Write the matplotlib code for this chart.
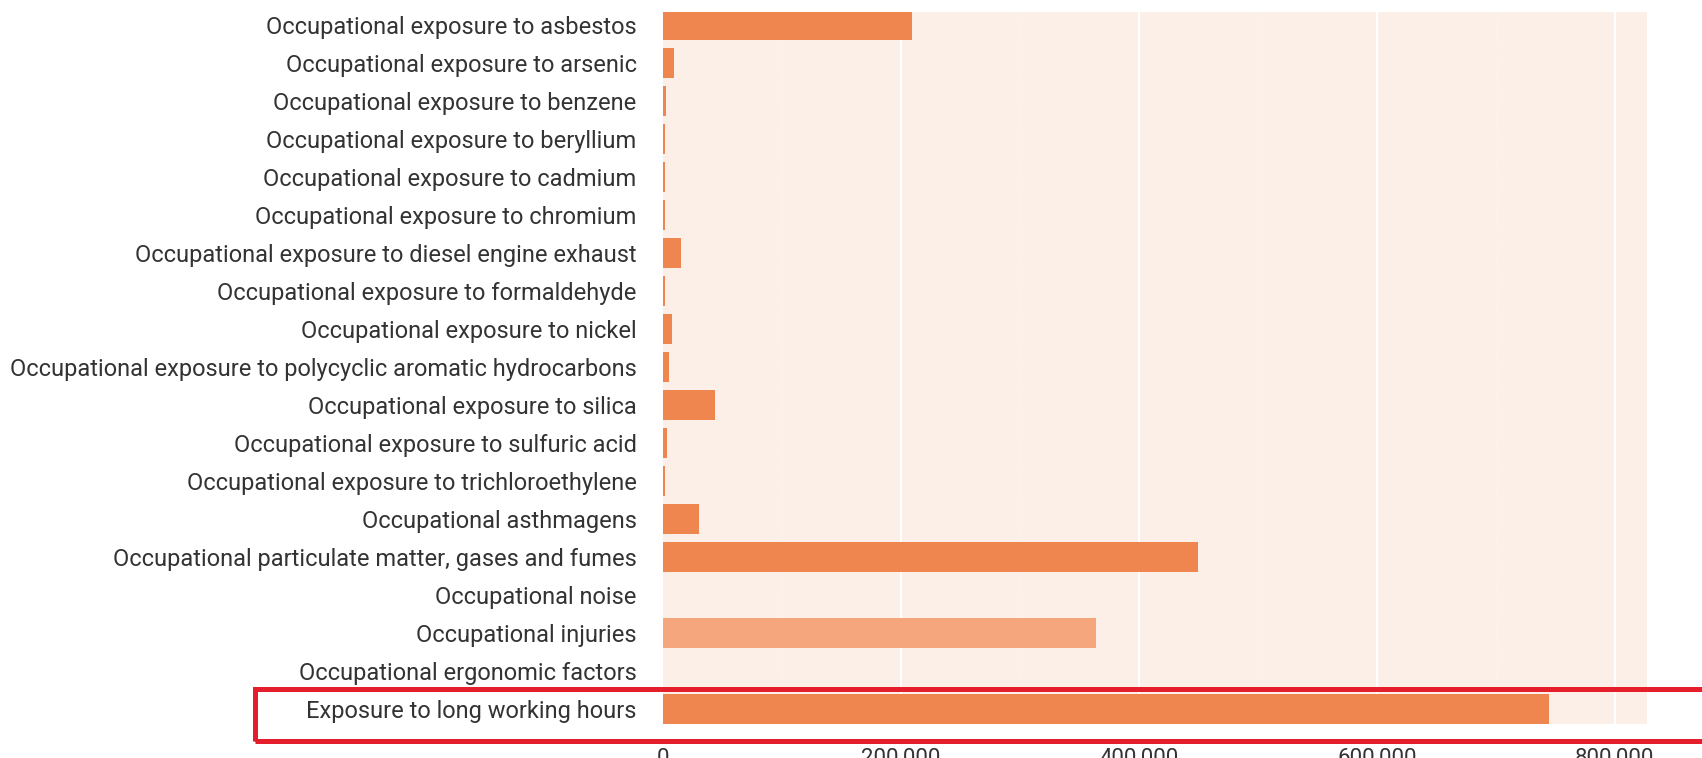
import matplotlib.pyplot as plt
from matplotlib.patches import Rectangle
from matplotlib.ticker import FuncFormatter

# valeurs (nombre de décès)
categories = [
    "Occupational exposure to asbestos",
    "Occupational exposure to arsenic",
    "Occupational exposure to benzene",
    "Occupational exposure to beryllium",
    "Occupational exposure to cadmium",
    "Occupational exposure to chromium",
    "Occupational exposure to diesel engine exhaust",
    "Occupational exposure to formaldehyde",
    "Occupational exposure to nickel",
    "Occupational exposure to polycyclic aromatic hydrocarbons",
    "Occupational exposure to silica",
    "Occupational exposure to sulfuric acid",
    "Occupational exposure to trichloroethylene",
    "Occupational asthmagens",
    "Occupational particulate matter, gases and fumes",
    "Occupational noise",
    "Occupational injuries",
    "Occupational ergonomic factors",
    "Exposure to long working hours",
]
deaths = [209000, 9000, 2500, 1500, 1500, 1500, 15000, 1500, 8000, 5000,
          43500, 3500, 1500, 30000, 450000, 0, 364000, 0, 745000]
x_ticks = [0, 200000, 400000, 600000, 800000]

couleur = "#F0864F"
couleur_claire = "#F6A67C"
fond = "#FCEFE7"

plt.rcParams['font.family'] = ['Roboto', 'DejaVu Sans']

fig = plt.figure(figsize=(17.02, 7.58), dpi=100)
ax = fig.add_axes([0.3895, 0.0449, 0.5782, 0.9393])
ax.set_facecolor(fond)

couleurs = [couleur_claire if c == "Occupational injuries" else couleur for c in categories]
ax.barh(range(len(categories)), deaths, height=0.8, color=couleurs, zorder=3)

ax.set_xlim(0, 827000)
ax.set_ylim(18.4, -0.35)

# grille blanche
for v in x_ticks[1:]:
    ax.axvline(v, color="white", lw=1.5, zorder=1)
for v in [100000, 300000, 500000, 700000]:
    ax.axvline(v, color="#FEF5F0", lw=1, ls=":", zorder=1)

ax.set_yticks(range(len(categories)))
ax.set_yticklabels(categories, fontsize=17, color="#333333")
ax.set_xticks(x_ticks)
ax.xaxis.set_major_formatter(FuncFormatter(lambda v, p: f"{int(v):,}"))
ax.tick_params(axis="x", length=0, pad=17, labelsize=16, labelcolor="#333333")
ax.tick_params(axis="y", length=0, pad=19)
for s in ax.spines.values():
    s.set_visible(False)

# cadre rouge autour de la dernière ligne
fig.patches.append(Rectangle((255 / 1702, 1 - 741 / 758), 1.0, 52 / 758,
                             transform=fig.transFigure, fill=False,
                             edgecolor="#E41E2B", lw=3.6, zorder=10))

plt.savefig("out.png", dpi=100)
